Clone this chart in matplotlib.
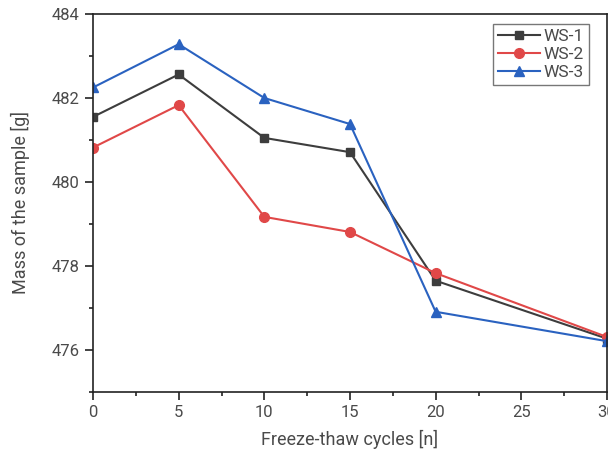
import matplotlib
matplotlib.use('Agg')
import matplotlib.pyplot as plt
from matplotlib.ticker import MultipleLocator

plt.rcParams['font.family'] = ['Roboto', 'DejaVu Sans']

# data
cycles = [0, 5, 10, 15, 20, 30]
ws1 = [481.55, 482.56, 481.05, 480.71, 477.65, 476.27]
ws2 = [480.82, 481.83, 479.17, 478.81, 477.83, 476.31]
ws3 = [482.25, 483.28, 482.00, 481.38, 476.91, 476.21]

text_color = '#4a4a4a'

fig = plt.figure(figsize=(6.08, 4.51), dpi=100)
ax = fig.add_axes([93 / 608, 1 - 392 / 451, 514 / 608, 378 / 451])

ax.plot(cycles, ws1, '-s', color='#3d3d3d', lw=1.5, ms=6, label='WS-1')
ax.plot(cycles, ws2, '-o', color='#e04848', lw=1.5, ms=7, label='WS-2')
ax.plot(cycles, ws3, '-^', color='#2a62c0', lw=1.5, ms=7, label='WS-3')

ax.set_xlim(0, 30)
ax.set_ylim(475, 484)
ax.xaxis.set_major_locator(MultipleLocator(5))
ax.xaxis.set_minor_locator(MultipleLocator(2.5))
ax.yaxis.set_minor_locator(MultipleLocator(1))
ax.set_yticks([476, 478, 480, 482, 484])

ax.tick_params(which='major', direction='out', length=6, width=1.2,
               labelsize=12, labelcolor=text_color, color='#222222')
ax.tick_params(which='minor', direction='out', length=3, width=1.2, color='#222222')
for s in ax.spines.values():
    s.set_linewidth(1.2)
    s.set_color('#222222')

ax.set_xlabel('Freeze-thaw cycles [n]', fontsize=13, color=text_color, labelpad=7)
ax.set_ylabel('Mass of the sample [g]', fontsize=13, color=text_color, labelpad=16)

leg = ax.legend(loc='upper right', bbox_to_anchor=(0.965, 0.974), borderaxespad=0,
                fontsize=12.5, frameon=True, fancybox=False, edgecolor='#555555',
                handlelength=2.4, handletextpad=0.2, borderpad=0.3,
                labelspacing=0.15)
for t in leg.get_texts():
    t.set_color(text_color)

fig.savefig('out.png', dpi=100)
